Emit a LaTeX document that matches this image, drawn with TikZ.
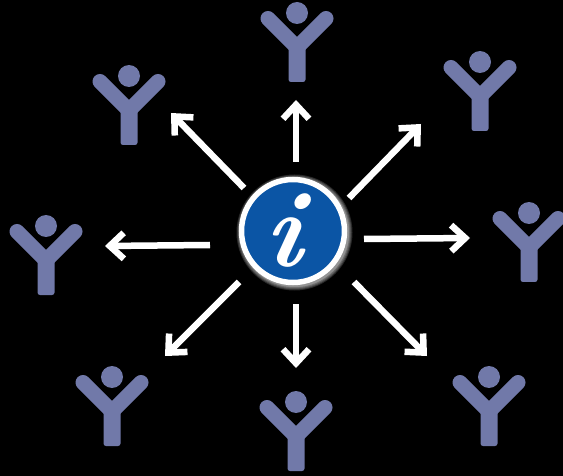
\documentclass[tikz,border=0pt]{standalone}
\usepackage{fontspec}
\usetikzlibrary{arrows.meta}
\definecolor{personblue}{HTML}{7179A9}
\definecolor{infoblue}{HTML}{0B55A5}
\tikzset{
  x=1pt,y=-1pt,
  person/.pic={
    \fill[personblue] (0,0) circle[radius=11];
    \draw[personblue,line width=15,line cap=round,line join=round] (-29,5.5) -- (0,34.5) -- (29,5.5);
    \fill[personblue,rounded corners=2.5] (-8.5,30) -- (8.5,30) -- (8.5,69) -- (-8.5,69) -- cycle;
  },
  flow/.style={draw=white,line width=6.5,-{Straight Barb[length=14pt,width=26pt,line width=6.5pt]}},
  infodisc/.style={circle,fill=infoblue,draw=white,line width=5.5,minimum size=103,inner sep=0},
  infoletter/.style={text=white,inner sep=0,transform shape,xslant=0.08,font=\fontsize{108}{108}\selectfont\bfseries\itshape\addfontfeature{FakeBold=1.5}},
}
\begin{document}
\begin{tikzpicture}
\useasboundingbox[fill=black] (0,0) rectangle (563,476);
\pic at (297,13) {person};
\pic at (129,76) {person};
\pic at (480,62) {person};
\pic at (529,213) {person};
\pic at (46,226) {person};
\pic at (112,377) {person};
\pic at (296,402) {person};
\pic at (489,377) {person};
\foreach \r in {58,57,56,55,54.5}{
  \fill[white,opacity=0.16] (294.5,232.5) circle[radius=\r];
}
\node[infodisc] (info) at (293,231) {};
\node[infoletter] (letter) at (285,231) {i};
\foreach \n/\a/\b/\c/\d in {u/296/162/296/100,ur/349/198/421/124,r/364/239/470/238,lr/354/282/427/356,d/296/304/296/368,ll/239/282/165/356,l/210/245/105/246,ul/244/188/171/113}{
  \coordinate (s\n) at (\a,\b);
  \coordinate (e\n) at (\c,\d);
  \draw[flow] (s\n) -- (e\n);
}
\end{tikzpicture}
\end{document}
